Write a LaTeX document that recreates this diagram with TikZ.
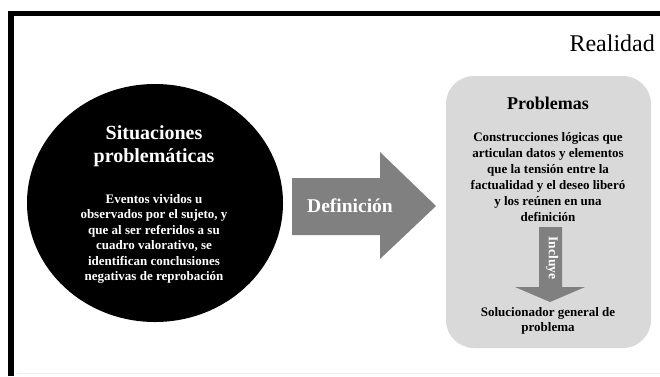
\documentclass[tikz,border=0pt]{standalone}
\usepackage{fontspec}
\setmainfont{Liberation Serif}
\definecolor{arrowgray}{HTML}{808080}
\definecolor{boxgray}{HTML}{D9D9D9}
\definecolor{faint}{HTML}{EEEEEE}
\tikzset{
  bodytxt/.style={align=center, font=\fontsize{13}{15.5}\selectfont\bfseries, inner sep=0pt},
  titletxt/.style={align=center, font=\fontsize{20}{23}\selectfont\bfseries, inner sep=0pt},
}
\begin{document}
\begin{tikzpicture}[x=1pt,y=-1pt]
\useasboundingbox (0,0) rectangle (660,376);
% frame
\draw[line width=5.5pt] (11,376) -- (11,13.5) -- (660,13.5);
\draw[faint, line width=1pt] (17,373) -- (660,373);
% Realidad
\node[anchor=east, font=\fontsize{24}{27}\selectfont, inner sep=0pt] (real) at (655,43) {Realidad};
% ellipse
\fill[black] (155,203) ellipse [x radius=128, y radius=119];
\node[titletxt, text=white] (sit) at (154,146) {Situaciones\\problemáticas};
\node[bodytxt, text=white] (sitbody) at (154,239) {Eventos vividos u\\observados por el sujeto, y\\que al ser referidos a su\\cuadro valorativo, se\\identifican conclusiones\\negativas de reprobación};
% big arrow
\fill[arrowgray] (292,178) -- (380,178) -- (380,152) -- (436,206) -- (380,259) -- (380,235) -- (292,235) -- cycle;
\node[font=\fontsize{19.5}{22}\selectfont\bfseries, text=white, inner sep=0pt] (def) at (350,206) {Definición};
% rounded box
\fill[boxgray, rounded corners=28pt] (446,76) rectangle (651,348);
\node[font=\fontsize{18}{21}\selectfont\bfseries, inner sep=0pt] (prob) at (548,103) {Problemas};
\node[bodytxt, font=\fontsize{13}{16}\selectfont\bfseries] (probbody) at (548,177) {Construcciones lógicas que\\articulan datos y elementos\\que la tensión entre la\\factualidad y el deseo liberó\\y los reúnen en una\\definición};
% down arrow
\fill[arrowgray] (539,227) -- (562,227) -- (562,287) -- (585,287) -- (550,302) -- (515,287) -- (539,287) -- cycle;
\node[font=\fontsize{13.5}{15}\selectfont\bfseries, text=white, inner sep=0pt, rotate=-90] (incl) at (552,258) {Incluye};
\node[bodytxt, font=\fontsize{13}{15}\selectfont\bfseries] (sol) at (548,321) {Solucionador general de\\problema};
\end{tikzpicture}
\end{document}
